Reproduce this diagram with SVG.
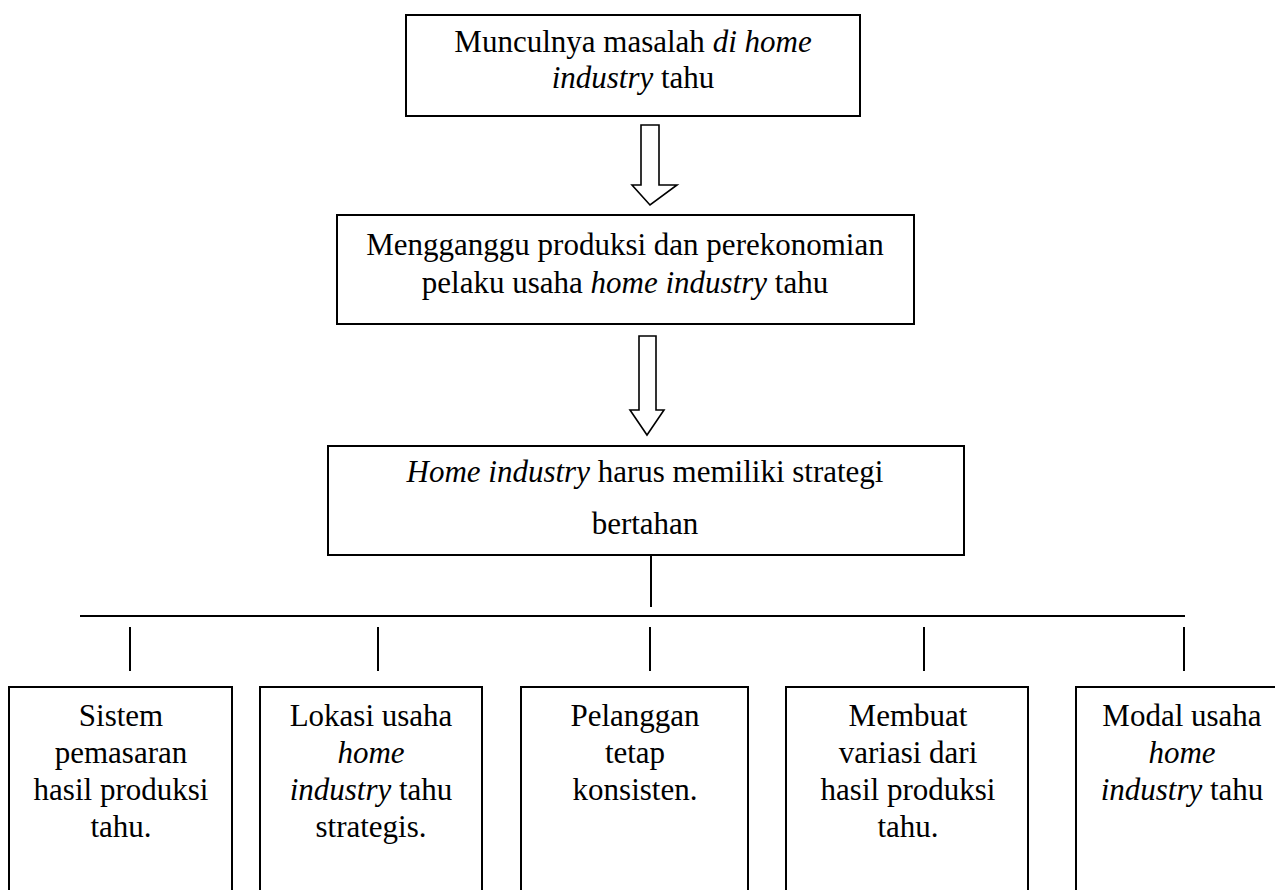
<svg xmlns="http://www.w3.org/2000/svg" width="1275" height="890" viewBox="0 0 1275 890">
<style>
  .box { fill: #ffffff; stroke: #000000; stroke-width: 2; }
  .arrow { fill: #ffffff; stroke: #000000; stroke-width: 1.6; stroke-linejoin: miter; }
  .line { stroke: #000000; stroke-width: 2; fill: none; }
  text { font-family: "Liberation Serif", "Times New Roman", serif; font-size: 31px; fill: #000000; text-anchor: middle; }
  .it { font-style: italic; }
</style>
<rect width="1275" height="890" fill="#ffffff"/>
<g id="connectors">
  <polygon class="arrow" points="641,125 659,125 659,185 677,185 650,205 632,185 641,185"/>
  <polygon class="arrow" points="639,336 656,336 656,410 664,410 647,435 630,410 639,410"/>
  <line class="line" x1="651" y1="555" x2="651" y2="607"/>
  <line class="line" x1="80" y1="616" x2="1185" y2="616"/>
  <line class="line" x1="130" y1="627" x2="130" y2="671"/>
  <line class="line" x1="378" y1="627" x2="378" y2="671"/>
  <line class="line" x1="650" y1="627" x2="650" y2="671"/>
  <line class="line" x1="924" y1="627" x2="924" y2="671"/>
  <line class="line" x1="1184" y1="627" x2="1184" y2="671"/>
</g>
<g id="node-masalah">
  <rect class="box" x="406" y="15" width="454" height="101"/>
  <text x="633" y="52">Munculnya masalah <tspan class="it">di home</tspan></text>
  <text x="633" y="88"><tspan class="it">industry</tspan> tahu</text>
</g>
<g id="node-mengganggu">
  <rect class="box" x="337" y="215" width="577" height="109"/>
  <text x="625" y="255">Mengganggu produksi dan perekonomian</text>
  <text x="625" y="293">pelaku usaha <tspan class="it">home industry</tspan> tahu</text>
</g>
<g id="node-strategi">
  <rect class="box" x="328" y="446" width="636" height="109"/>
  <text x="645" y="482"><tspan class="it">Home industry</tspan> harus memiliki strategi</text>
  <text x="645" y="534">bertahan</text>
</g>
<g id="node-pemasaran">
  <rect class="box" x="9" y="687" width="223" height="220"/>
  <text x="121" y="726">Sistem</text>
  <text x="121" y="763">pemasaran</text>
  <text x="121" y="800">hasil produksi</text>
  <text x="121" y="837">tahu.</text>
</g>
<g id="node-lokasi">
  <rect class="box" x="260" y="687" width="222" height="220"/>
  <text x="371" y="726">Lokasi usaha</text>
  <text x="371" y="763" class="it">home</text>
  <text x="371" y="800"><tspan class="it">industry</tspan> tahu</text>
  <text x="371" y="837">strategis.</text>
</g>
<g id="node-pelanggan">
  <rect class="box" x="521" y="687" width="227" height="220"/>
  <text x="635" y="726">Pelanggan</text>
  <text x="635" y="763">tetap</text>
  <text x="635" y="800">konsisten.</text>
</g>
<g id="node-variasi">
  <rect class="box" x="786" y="687" width="242" height="220"/>
  <text x="908" y="726">Membuat</text>
  <text x="908" y="763">variasi dari</text>
  <text x="908" y="800">hasil produksi</text>
  <text x="908" y="837">tahu.</text>
</g>
<g id="node-modal">
  <rect class="box" x="1076" y="687" width="220" height="220"/>
  <text x="1182" y="726">Modal usaha</text>
  <text x="1182" y="763" class="it">home</text>
  <text x="1182" y="800"><tspan class="it">industry</tspan> tahu</text>
</g>
</svg>
